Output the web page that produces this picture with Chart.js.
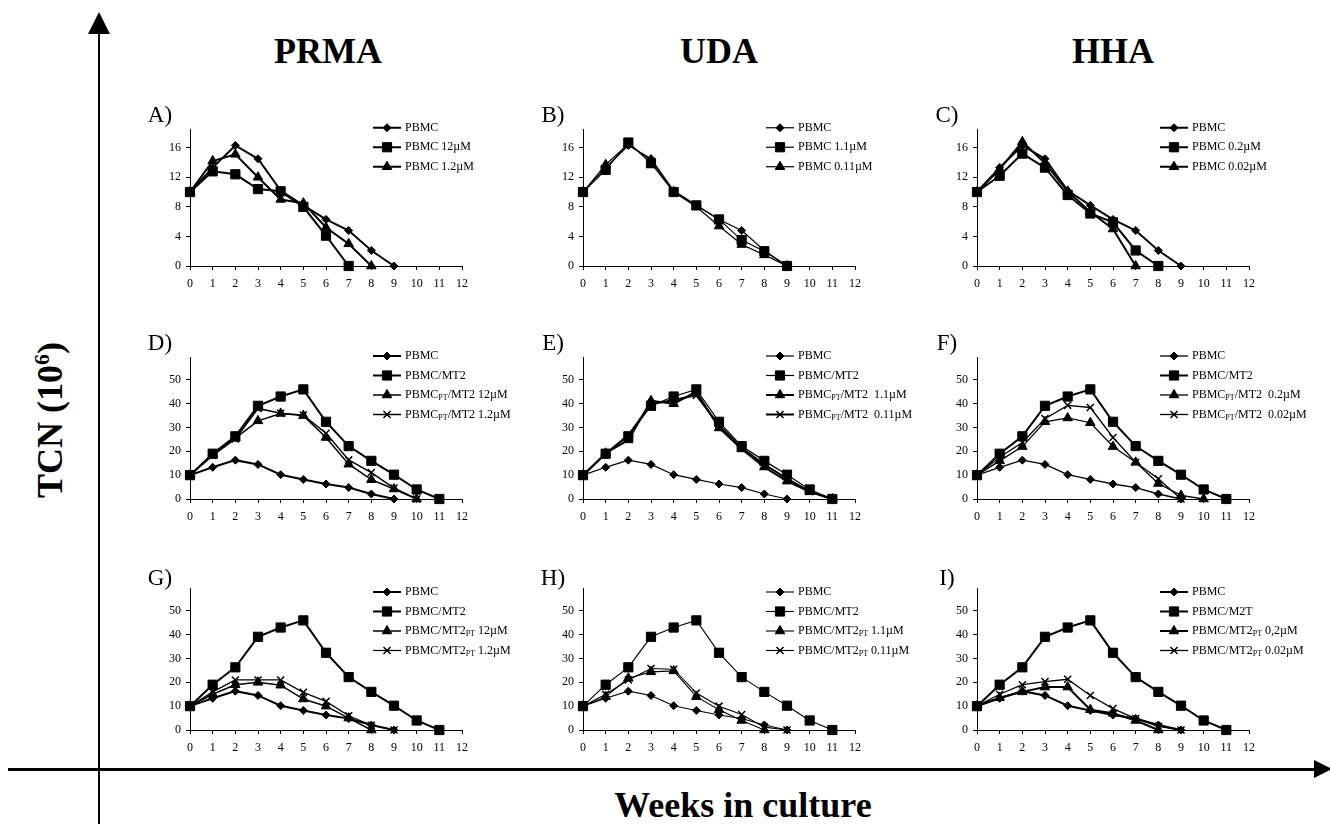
<!DOCTYPE html>
<html lang="en">
<head>
<meta charset="UTF-8">
<title>TCN - weeks in culture</title>
<script src="https://cdn.jsdelivr.net/npm/chart.js"></script>
<style>
  body { margin: 0; background: #fff; }
  #fig { position: relative; width: 1330px; height: 824px; overflow: hidden;
         font-family: "Liberation Serif", "Times New Roman", serif; color: #000; }
  #fig canvas { position: absolute; }
  .big { position: absolute; font-weight: bold; font-size: 36px; white-space: nowrap;
         transform: translate(-50%, -50%); }
  .big sup { font-size: 22px; }
  .plabel { position: absolute; font-size: 23px; transform: translate(-50%, -50%); }
  .bar { position: absolute; background: #000; }
  .head { position: absolute; width: 0; height: 0; }
</style>
</head>
<body>
<div id="fig">
  <div class="bar" style="left:98px; top:30px; width:2px; height:794px;"></div>
  <div class="head" style="left:88px; top:12px; border-left:11px solid transparent; border-right:11px solid transparent; border-bottom:22px solid #000;"></div>
  <div class="bar" style="left:8px; top:768px; width:1310px; height:3px;"></div>
  <div class="head" style="left:1314px; top:760px; border-top:9px solid transparent; border-bottom:9px solid transparent; border-left:18px solid #000;"></div>

  <div class="big" style="left:328px; top:51px;">PRMA</div>
  <div class="big" style="left:719px; top:51px;">UDA</div>
  <div class="big" style="left:1113px; top:51px;">HHA</div>
  <div class="big" style="left:50px; top:420px; transform:translate(-50%,-50%) rotate(-90deg);">TCN (10<sup>6</sup>)</div>
  <div class="big" style="left:743px; top:805px;">Weeks in culture</div>
</div>
<script>
// weeks on the x axis and the tick values
const weeks = [0, 1, 2, 3, 4, 5, 6, 7, 8, 9, 10, 11, 12];
const yTicksTop = [0, 4, 8, 12, 16];
const yTicksLow = [0, 10, 20, 30, 40, 50];

// controls
const pbmc = [10, 13.3, 16.3, 14.5, 10.2, 8.2, 6.3, 4.8, 2.1, 0];
const mt2 = [10, 19, 26.3, 39.1, 43, 46, 32.4, 22.2, 16, 10.2, 4, 0];

// row 1: PBMC + compound
const prma12 = [10, 12.8, 12.4, 10.4, 10.1, 8.0, 4.1, 0];
const prma1_2 = [10, 14.2, 15.1, 12.0, 9.0, 8.5, 5.2, 3.0, 0];
const uda1_1 = [10, 13.0, 16.7, 13.9, 10.0, 8.2, 6.3, 3.5, 2.0, 0];
const uda0_11 = [10, 13.7, 16.5, 14.3, 10.0, 8.0, 5.4, 2.9, 1.5, 0];
const hha0_2 = [10, 12.2, 15.2, 13.3, 9.6, 7.1, 5.9, 2.1, 0];
const hha0_02 = [10, 13.1, 16.8, 13.9, 10.1, 7.3, 5.0, 0];

// row 2: PBMC pretreated / MT2
const prmaPt12 = [10, 18.5, 25.5, 32.8, 35.9, 35.0, 25.8, 14.6, 8.1, 4.2, 0];
const prmaPt1_2 = [10, 18.3, 25.2, 38.0, 36.0, 35.2, 27.6, 16.4, 11.1, 4.6, 0];
const udaPt1_1 = [10, 19.2, 24.8, 41.2, 40.0, 45.0, 29.8, 21.0, 13.4, 7.5, 3.0, 0];
const udaPt0_11 = [10, 19.0, 26.8, 39.8, 41.5, 43.5, 31.0, 21.5, 14.5, 8.5, 3.2, 0];
const hhaPt0_2 = [10, 16, 22, 32.4, 34, 32, 22, 15.4, 6.5, 1.5, 0];
const hhaPt0_02 = [10, 17.5, 23.7, 33.7, 39.3, 38.4, 25.8, 15.4, 8.5, 0];

// row 3: PBMC / MT2 pretreated
const prmaMt2Pt12 = [10, 15, 19, 20, 18.8, 13, 10, 5, 0];
const prmaMt2Pt1_2 = [10, 16, 21, 21, 21, 15.8, 12, 6, 2, 0];
const udaMt2Pt1_1 = [10, 14, 21.7, 24.4, 24.8, 14, 8.5, 4, 0];
const udaMt2Pt0_11 = [10, 15, 21, 25.8, 25.5, 15.5, 10, 6.5, 1.2, 0];
const hhaMt2Pt0_2 = [10, 13.5, 16, 18, 18, 8.5, 7, 4, 0];
const hhaMt2Pt0_02 = [10, 15, 19, 20.3, 21.3, 14.5, 9, 4.8, 1.5, 0];

// legend texts, _{..} is a subscript
const namesA = ['PBMC', 'PBMC 12µM', 'PBMC 1.2µM'];
const namesB = ['PBMC', 'PBMC 1.1µM', 'PBMC 0.11µM'];
const namesC = ['PBMC', 'PBMC 0.2µM', 'PBMC 0.02µM'];
const namesD = ['PBMC', 'PBMC/MT2', 'PBMC_{PT}/MT2 12µM', 'PBMC_{PT}/MT2 1.2µM'];
const namesE = ['PBMC', 'PBMC/MT2', 'PBMC_{PT}/MT2  1.1µM', 'PBMC_{PT}/MT2  0.11µM'];
const namesF = ['PBMC', 'PBMC/MT2', 'PBMC_{PT}/MT2  0.2µM', 'PBMC_{PT}/MT2  0.02µM'];
const namesG = ['PBMC', 'PBMC/MT2', 'PBMC/MT2_{PT} 12µM', 'PBMC/MT2_{PT} 1.2µM'];
const namesH = ['PBMC', 'PBMC/MT2', 'PBMC/MT2_{PT} 1.1µM', 'PBMC/MT2_{PT} 0.11µM'];
const namesI = ['PBMC', 'PBMC/M2T', 'PBMC/MT2_{PT} 0,2µM', 'PBMC/MT2_{PT} 0.02µM'];

// layout of the 3x3 grid
const cols = [190, 583, 977];
const plotW = 272;
const rows = [
    { y0: 266, max: 18.5, px: 7.5, ticks: yTicksTop, legendY: 128, labelY: 115 },
    { y0: 499, max: 59.5, px: 2.42, ticks: yTicksLow, legendY: 356, labelY: 343 },
    { y0: 730, max: 59.5, px: 2.42, ticks: yTicksLow, legendY: 592, labelY: 578 }
];
const markers = ['rectRot', 'rect', 'triangle', 'crossRot'];
const radii = [4, 6.5, 5.5, 5];

const panels = [
    { tag: 'A)', row: 0, col: 0, series: [pbmc, prma12, prma1_2], names: namesA, widths: [2, 2, 2] },
    { tag: 'B)', row: 0, col: 1, series: [pbmc, uda1_1, uda0_11], names: namesB, widths: [1.2, 1.2, 1.2] },
    { tag: 'C)', row: 0, col: 2, series: [pbmc, hha0_2, hha0_02], names: namesC, widths: [2, 2, 2] },
    { tag: 'D)', row: 1, col: 0, series: [pbmc, mt2, prmaPt12, prmaPt1_2], names: namesD, widths: [2, 2, 1.5, 1.5] },
    { tag: 'E)', row: 1, col: 1, series: [pbmc, mt2, udaPt1_1, udaPt0_11], names: namesE, widths: [1.2, 1.2, 2, 2] },
    { tag: 'F)', row: 1, col: 2, series: [pbmc, mt2, hhaPt0_2, hhaPt0_02], names: namesF, widths: [1.3, 2, 1.3, 1.3] },
    { tag: 'G)', row: 2, col: 0, series: [pbmc, mt2, prmaMt2Pt12, prmaMt2Pt1_2], names: namesG, widths: [2, 2, 1.5, 1.2] },
    { tag: 'H)', row: 2, col: 1, series: [pbmc, mt2, udaMt2Pt1_1, udaMt2Pt0_11], names: namesH, widths: [1.1, 1.1, 1.1, 1.1] },
    { tag: 'I)', row: 2, col: 2, series: [pbmc, mt2, hhaMt2Pt0_2, hhaMt2Pt0_02], names: namesI, widths: [2, 2, 2, 1.3] }
];

const FONT = '"Liberation Serif", "Times New Roman", serif';

function drawLabel(ctx, text, x, y) {
    const parts = text.split(/_\{|\}/);
    parts.forEach((part, i) => {
        if (i % 2) {
            ctx.font = '8px ' + FONT;
            ctx.fillText(part, x, y + 3);
        } else {
            ctx.font = '12px ' + FONT;
            ctx.fillText(part, x, y);
        }
        x += ctx.measureText(part).width;
    });
}

// legend drawn inside the plot, top right, like the original figure
const sideLegend = {
    id: 'sideLegend',
    afterDatasetsDraw(chart, args, opts) {
        const ctx = chart.ctx;
        ctx.save();
        ctx.fillStyle = '#000';
        ctx.strokeStyle = '#000';
        ctx.textBaseline = 'middle';
        chart.data.datasets.forEach((ds, i) => {
            const y = opts.y + i * opts.gap;
            ctx.lineWidth = ds.borderWidth;
            ctx.beginPath();
            ctx.moveTo(opts.x, y);
            ctx.lineTo(opts.x + 28, y);
            ctx.stroke();
            ctx.lineWidth = ds.pointBorderWidth;
            Chart.helpers.drawPoint(ctx, {
                pointStyle: ds.pointStyle, radius: ds.pointRadius,
                borderWidth: ds.pointBorderWidth, rotation: 0
            }, opts.x + 14, y);
            drawLabel(ctx, ds.label, opts.x + 32, y);
        });
        ctx.restore();
    }
};

const fig = document.getElementById('fig');
const padL = 40, padT = 10, padB = 30, padR = 88;

panels.forEach(p => {
    const r = rows[p.row];
    const x0 = cols[p.col];
    const plotH = r.max * r.px;
    const yTop = r.y0 - plotH;

    const cv = document.createElement('canvas');
    cv.width = padL + plotW + padR;
    cv.height = Math.round(padT + plotH + padB);
    cv.style.left = (x0 - padL) + 'px';
    cv.style.top = Math.round(yTop - padT) + 'px';
    fig.appendChild(cv);

    const tag = document.createElement('div');
    tag.className = 'plabel';
    tag.textContent = p.tag;
    tag.style.left = (x0 - 30) + 'px';
    tag.style.top = r.labelY + 'px';
    fig.appendChild(tag);

    const datasets = p.series.map((vals, i) => ({
        label: p.names[i],
        data: vals.map((v, k) => ({ x: weeks[k], y: v })),
        borderColor: '#000',
        backgroundColor: '#000',
        borderWidth: p.widths[i],
        pointStyle: markers[i],
        pointRadius: radii[i],
        pointBackgroundColor: '#000',
        pointBorderColor: '#000',
        pointBorderWidth: i === 3 ? 1.5 : 1,
        tension: 0,
        clip: false
    }));

    new Chart(cv, {
        type: 'line',
        data: { datasets: datasets },
        plugins: [sideLegend],
        options: {
            responsive: false,
            animation: false,
            events: [],
            layout: { padding: { top: padT, right: padR, left: 0, bottom: 0 } },
            scales: {
                x: {
                    type: 'linear', min: 0, max: 12,
                    afterBuildTicks: s => { s.ticks = weeks.map(v => ({ value: v })); },
                    afterFit: s => { s.height = padB; },
                    grid: { drawOnChartArea: false, tickLength: 4, color: '#000' },
                    border: { display: true, color: '#000', width: 1 },
                    ticks: { autoSkip: false, maxRotation: 0, padding: 7, color: '#000',
                             font: { family: FONT, size: 12 } }
                },
                y: {
                    min: 0, max: r.max,
                    afterBuildTicks: s => { s.ticks = r.ticks.map(v => ({ value: v })); },
                    afterFit: s => { s.width = padL; },
                    grid: { drawOnChartArea: false, tickLength: 4, color: '#000' },
                    border: { display: true, color: '#000', width: 1 },
                    ticks: { padding: 5, color: '#000', font: { family: FONT, size: 12 } }
                }
            },
            plugins: {
                legend: { display: false },
                tooltip: { enabled: false },
                sideLegend: { x: padL + 183, y: r.legendY - (yTop - padT), gap: 19.5 }
            }
        }
    });
});
</script>
</body>
</html>
